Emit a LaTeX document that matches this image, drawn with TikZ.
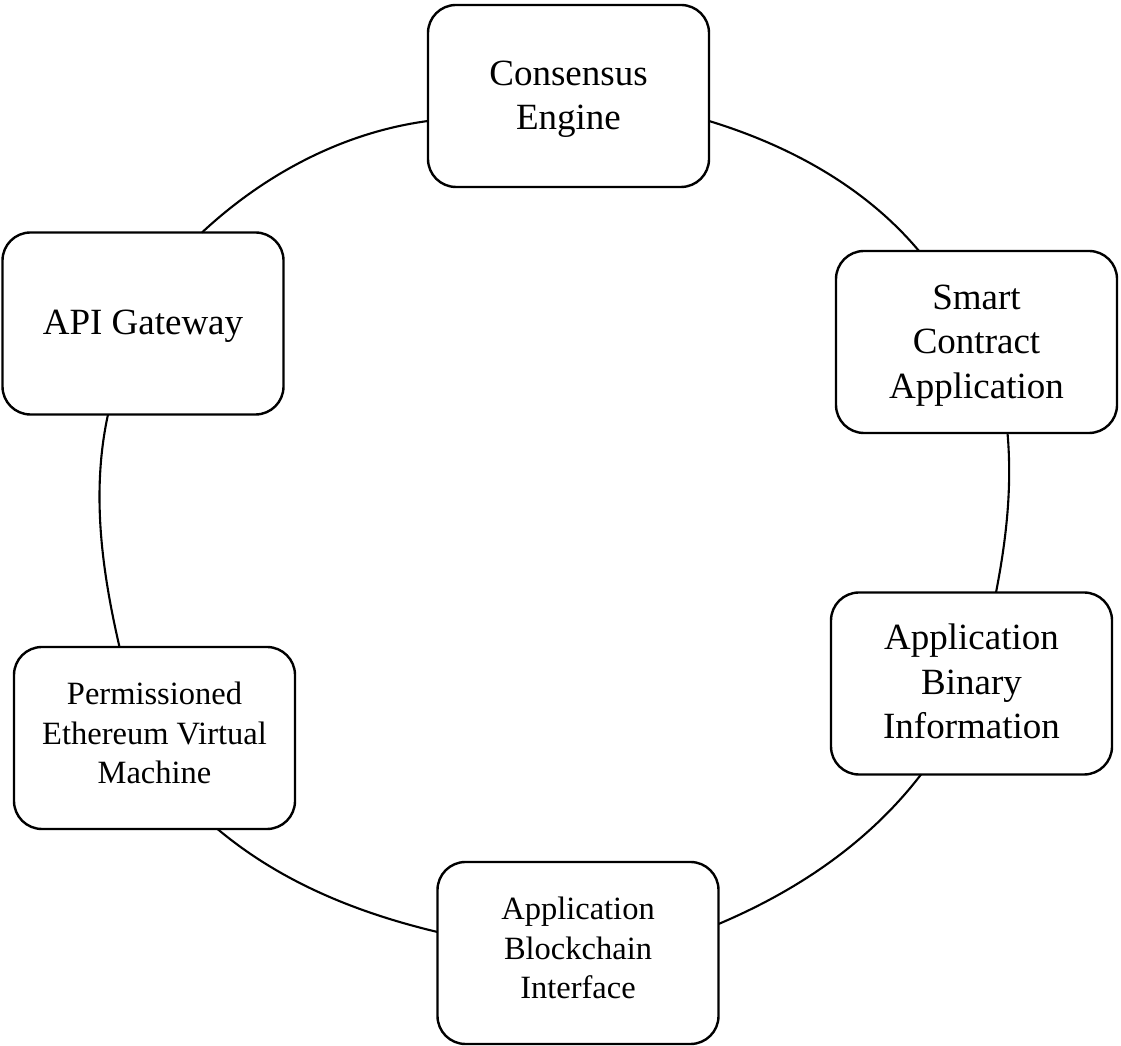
\documentclass[tikz,border=0pt]{standalone}
\usepackage{fontspec}
\setmainfont{Liberation Serif}
\newcommand{\toppad}{\rule{0pt}{31pt}}
\begin{document}
\begin{tikzpicture}[x=1pt,y=1pt,
  box/.style={draw, line width=2.4pt, rounded corners=28pt, minimum width=281pt, minimum height=182pt,
    inner sep=0pt, outer sep=0pt, align=center, font=\fontsize{37}{44.5}\selectfont},
  boxsmall/.style={box, font=\fontsize{32.5}{39.5}\selectfont, text depth=10pt},
  link/.style={line width=2.1pt, looseness=0.87}]
\useasboundingbox (0,0) rectangle (1121,1046);
\node[box] (ce) at (568.5,950) {\toppad Consensus\\Engine};
\node[box] (sca) at (976.5,704) {\toppad Smart\\Contract\\Application};
\node[box, text depth=4pt] (abi) at (971.5,362.5) {Application\\Binary\\Information};
\node[boxsmall] (abci) at (578,93) {Application\\Blockchain\\Interface};
\node[boxsmall] (pevm) at (154.5,308) {Permissioned\\Ethereum Virtual\\Machine};
\node[box] (api) at (143,722.5) {\toppad API Gateway};
\draw[link] ([xshift=59pt]api.north) to[out=43,in=187.6] ([yshift=-25pt]ce.west);
\draw[link] ([yshift=-25pt]ce.east) to[out=-17,in=130] ([xshift=-57.5pt]sca.north);
\draw[link] ([xshift=31pt]sca.south) to[out=-85,in=79] ([xshift=24.5pt]abi.north);
\draw[link] ([xshift=-50.5pt]abi.south) to[out=232.5,in=22.9] ([yshift=29pt]abci.east);
\draw[link] ([yshift=21pt]abci.west) to[out=166.6,in=-40] ([xshift=63pt]pevm.south);
\draw[link] ([xshift=-35pt]pevm.north) to[out=103,in=-102.3] ([xshift=-35pt]api.south);
\end{tikzpicture}
\end{document}
